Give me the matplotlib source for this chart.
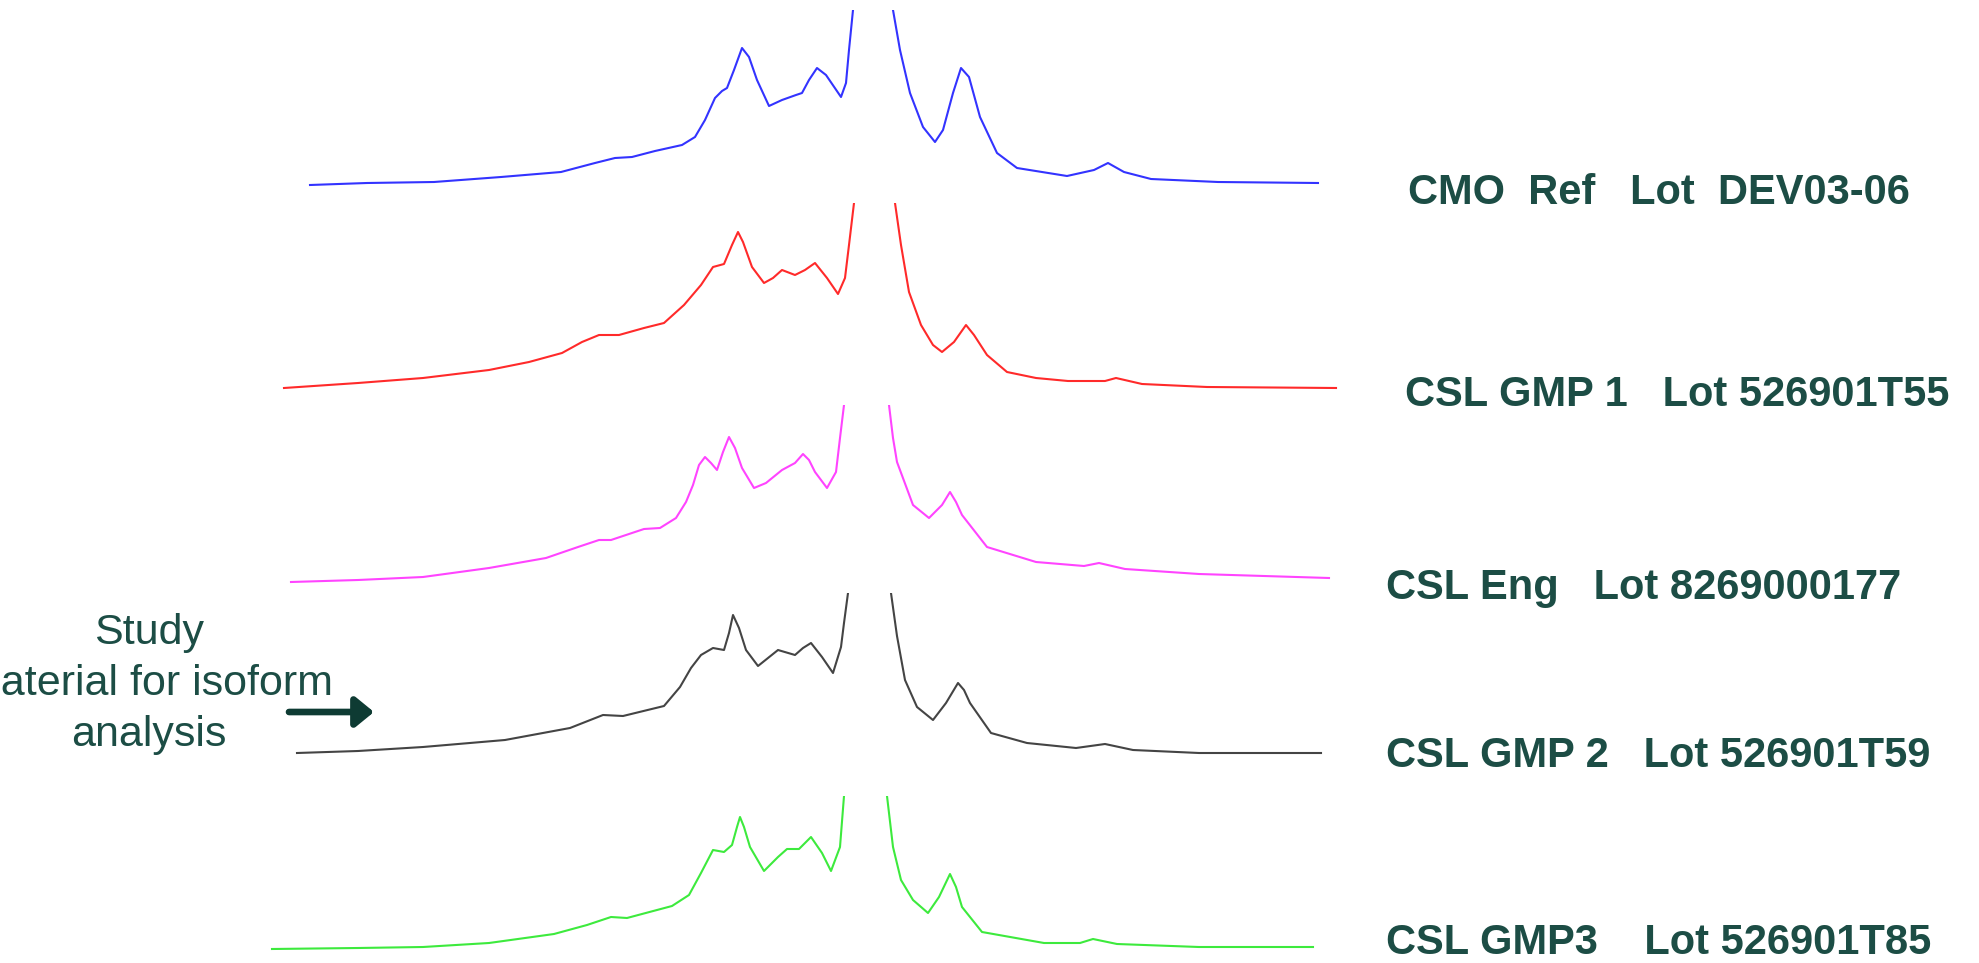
import matplotlib
matplotlib.use("Agg")
import matplotlib.pyplot as plt

plt.rcParams['font.family'] = ['Liberation Sans', 'DejaVu Sans']

W, H = 1979, 963
TEXT_COLOR = '#1c4d45'

# sample names shown to the right of each trace
labels = [
    'CMO  Ref   Lot  DEV03-06',
    'CSL GMP 1   Lot 526901T55',
    'CSL Eng   Lot 8269000177',
    'CSL GMP 2   Lot 526901T59',
    'CSL GMP3    Lot 526901T85',
]

# trace positions and signal above baseline
# the main peak runs far off scale, it is clipped at the top of each panel
blue_x = [310, 367, 434, 501, 561, 595, 615, 632, 655, 682, 695, 705, 715, 722,
          727, 734, 742, 749, 757, 769, 782, 796, 802, 809, 817, 826, 841, 846,
          849, 853, 873, 893, 900, 910, 923, 935, 943, 953, 961, 969, 980, 997,
          1017, 1067, 1094, 1108, 1124, 1151, 1218, 1318]
blue_y = [-2, 0, 1, 6, 11, 20, 25, 26, 32, 38, 46, 63, 85, 92,
          95, 113, 135, 126, 103, 77, 83, 88, 90, 103, 115, 108, 86, 100,
          133, 173, 600, 173, 133, 90, 56, 41, 53, 90, 115, 106, 66, 30,
          15, 7, 13, 20, 11, 4, 1, 0]

red_x = [284, 358, 423, 489, 529, 562, 582, 599, 619, 644, 664, 684, 701, 713,
         724, 732, 738, 743, 752, 764, 773, 782, 795, 805, 815, 827, 838, 845,
         849, 854, 875, 895, 901, 909, 921, 933, 942, 954, 966, 974, 987, 1007,
         1036, 1068, 1105, 1116, 1142, 1207, 1336]
red_y = [0, 5, 10, 18, 26, 35, 46, 53, 53, 60, 65, 83, 103, 121,
         124, 143, 156, 146, 121, 105, 110, 118, 113, 118, 125, 110, 94, 110,
         143, 185, 600, 185, 143, 96, 63, 43, 36, 46, 63, 53, 33, 16,
         10, 7, 7, 10, 4, 1, 0]

magenta_x = [291, 358, 423, 489, 546, 578, 599, 611, 644, 660, 676, 686, 693,
             699, 705, 711, 717, 723, 729, 735, 742, 754, 766, 782, 795, 803,
             809, 815, 827, 836, 840, 844, 866, 889, 893, 897, 913, 929, 942,
             950, 956, 962, 987, 1036, 1084, 1099, 1125, 1199, 1329]
magenta_y = [-4, -2, 1, 10, 20, 31, 38, 38, 49, 50, 60, 76, 93,
             113, 121, 115, 108, 126, 141, 130, 110, 90, 95, 108, 115, 124,
             118, 106, 90, 106, 140, 173, 600, 173, 140, 116, 73, 60, 73,
             86, 76, 63, 31, 16, 12, 15, 9, 4, 0]

black_x = [297, 358, 423, 505, 570, 603, 623, 664, 680, 691, 701, 713, 724,
           729, 733, 739, 746, 758, 768, 778, 795, 803, 811, 822, 833, 841,
           844, 848, 870, 891, 897, 905, 917, 933, 946, 958, 964, 970, 991,
           1027, 1076, 1105, 1133, 1199, 1321]
black_y = [0, 2, 6, 13, 25, 38, 37, 47, 66, 85, 98, 105, 103,
           120, 138, 125, 103, 87, 95, 103, 98, 105, 110, 96, 80, 106,
           130, 160, 600, 160, 117, 73, 46, 33, 50, 70, 63, 50, 20,
           10, 5, 9, 3, 0, 0]

green_x = [272, 358, 423, 489, 554, 587, 611, 627, 672, 689, 701, 713, 724,
           732, 737, 740, 744, 750, 764, 778, 787, 799, 811, 822, 831, 840,
           844, 866, 887, 893, 901, 913, 928, 939, 950, 956, 962, 982, 1044,
           1080, 1093, 1117, 1199, 1313]
green_y = [-2, -1, 0, 4, 13, 22, 30, 29, 41, 52, 74, 97, 95,
           102, 120, 130, 120, 100, 76, 90, 98, 98, 110, 94, 76, 100,
           151, 600, 151, 100, 67, 47, 34, 50, 73, 60, 40, 15, 4,
           4, 8, 3, 0, 0]

traces = [
    (blue_x, blue_y, '#3333ff'),
    (red_x, red_y, '#ff2a2a'),
    (magenta_x, magenta_y, '#ff44ff'),
    (black_x, black_y, '#444444'),
    (green_x, green_y, '#3dea3d'),
]

# panel layout in pixels: (top clip row, baseline row)
panels = [(10, 183), (203, 388), (405, 578), (593, 753), (796, 947)]
label_pos = [(1408, 193), (1405, 395), (1386, 588), (1386, 756), (1386, 943)]

fig = plt.figure(figsize=(W / 100, H / 100), dpi=100)

for (xs, ys, col), (top, base) in zip(traces, panels):
    pad = 14
    ax = fig.add_axes([0, 1 - (base + pad) / H, 1, (base + pad - top) / H])
    ax.plot(xs, ys, color=col, lw=1.5, solid_joinstyle='round')
    ax.set_xlim(0, W)
    ax.set_ylim(-pad, base - top)
    ax.axis('off')

# overlay for the text and arrow, in pixel units
ov = fig.add_axes([0, 0, 1, 1], zorder=5)
ov.set_xlim(0, W)
ov.set_ylim(H, 0)
ov.axis('off')

for lab, (lx, ly) in zip(labels, label_pos):
    ov.text(lx, ly, lab, fontsize=30, fontweight='bold', color=TEXT_COLOR,
            ha='left', va='center')

ov.text(149, 684, 'Study\nMaterial for isoform\nanalysis', fontsize=31,
        color=TEXT_COLOR, ha='center', va='center', linespacing=1.36)

ov.annotate('', xy=(374, 712), xytext=(289, 712),
            arrowprops=dict(arrowstyle='-|>,head_length=0.55,head_width=0.45',
                            lw=4.8, color='#0e3b33', mutation_scale=20,
                            shrinkA=0, shrinkB=0))

fig.savefig('out.png', dpi=100)
